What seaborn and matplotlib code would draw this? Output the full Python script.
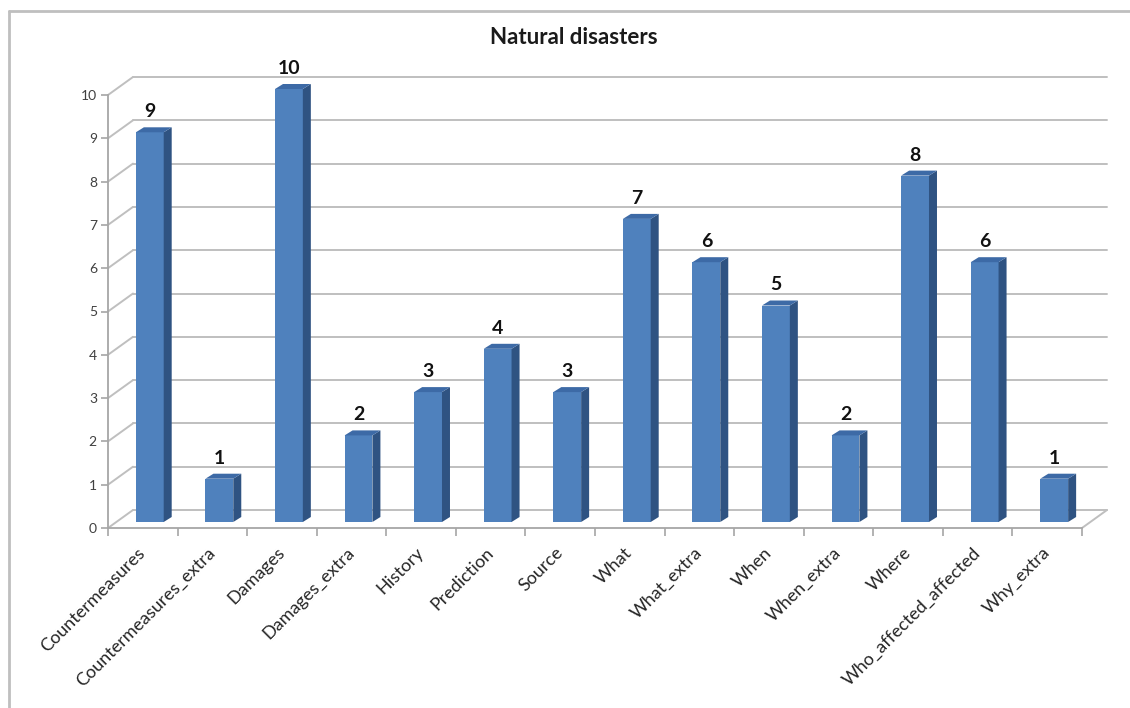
import numpy as np
import pandas as pd
import matplotlib
matplotlib.use("Agg")
import matplotlib.pyplot as plt
import seaborn as sns
from matplotlib.transforms import offset_copy
from matplotlib.patches import Polygon
from matplotlib.lines import Line2D

# ---- data ----
categories = ["Countermeasures", "Countermeasures_extra", "Damages", "Damages_extra",
              "History", "Prediction", "Source", "What", "What_extra", "When",
              "When_extra", "Where", "Who_affected_affected", "Why_extra"]
counts = [9, 1, 10, 2, 3, 4, 3, 7, 6, 5, 2, 8, 6, 1]
y_ticks = list(range(0, 11))
title = "Natural disasters"

# ---- style ----
FRONT = "#4F81BD"
SIDE = "#2F5382"
TOP = "#3D6AA6"
GRID = "#BFBFBF"

sns.set_theme(style="white")
plt.rcParams['font.family'] = ['Lato', 'DejaVu Sans']

W, H = 1130, 708
fig = plt.figure(figsize=(W / 100, H / 100), dpi=100)
fig.patch.set_facecolor("white")
ax = fig.add_axes([108 / W, (H - 528) / H, 974 / W, 433 / H])
ax.set_facecolor("none")

df = pd.DataFrame({"category": categories, "count": counts})
sns.barplot(data=df, x="category", y="count", color=FRONT, width=0.4,
            saturation=1, errorbar=None, ax=ax, zorder=3)
n = len(categories)
ax.set_xlim(-0.5, n - 0.5)
ax.set_ylim(0, 10)

# pixel -> data conversions
p0 = ax.transData.transform((0, 0))
p1 = ax.transData.transform((1, 1))
ppx, ppy = p1[0] - p0[0], p1[1] - p0[1]

bar_tr = offset_copy(ax.transData, fig=fig, x=7, y=6, units="dots")
bdx, bdy = 8 / ppx, 5 / ppy       # bar depth
wdx, wdy = 25 / ppx, 18 / ppy     # wall depth

# back wall gridlines + left wall diagonals
for yv in y_ticks:
    ax.plot([-0.5 + wdx, n - 0.5 + wdx], [yv + wdy, yv + wdy], color=GRID,
            lw=1.4, clip_on=False, zorder=1)
    ax.plot([-0.5, -0.5 + wdx], [yv, yv + wdy], color=GRID, lw=1.4,
            clip_on=False, zorder=1)
# floor right edge
ax.plot([n - 0.5, n - 0.5 + wdx], [0, wdy], color=GRID, lw=1.4, clip_on=False, zorder=1)

# 3D faces for bars
for patch, v in zip(list(ax.patches), counts):
    patch.set_transform(bar_tr)
    patch.set_clip_on(False)
    patch.set_edgecolor("none")
    x0, w, h = patch.get_x(), patch.get_width(), patch.get_height()
    side = Polygon([(x0 + w, 0), (x0 + w + bdx, bdy), (x0 + w + bdx, h + bdy), (x0 + w, h)],
                   closed=True, facecolor=SIDE, edgecolor="none", transform=bar_tr,
                   clip_on=False, zorder=3)
    top = Polygon([(x0, h), (x0 + w, h), (x0 + w + bdx, h + bdy), (x0 + bdx, h + bdy)],
                  closed=True, facecolor=TOP, edgecolor="none", transform=bar_tr,
                  clip_on=False, zorder=3)
    ax.add_patch(side)
    ax.add_patch(top)
    lab_tr = offset_copy(bar_tr, fig=fig, x=0, y=7, units="dots")
    ax.text(x0 + w / 2, h + bdy, str(v), transform=lab_tr, ha="center", va="bottom",
            fontsize=14, fontweight="bold", color="#111111", clip_on=False, zorder=4)

# axes styling
for s in ["top", "right"]:
    ax.spines[s].set_visible(False)
for s in ["left", "bottom"]:
    ax.spines[s].set_color("#A6A6A6")
    ax.spines[s].set_linewidth(1.3)
ax.set_yticks(y_ticks)
ax.set_yticklabels([str(t) for t in y_ticks], fontsize=10, color="#404040")
ax.set_xticks(range(n))
ax.set_xticklabels(categories, rotation=45, ha="right", va="center",
                   rotation_mode="anchor", fontsize=13, color="#262626")
ax.set_xticks(np.arange(-0.5, n, 1), minor=True)
ax.tick_params(axis="y", left=True, length=5, width=1.2, color="#A6A6A6", pad=3)
ax.tick_params(axis="x", which="major", bottom=True, length=0, pad=16)
ax.tick_params(axis="x", which="minor", bottom=True, length=6, width=1.2, color="#A6A6A6")
ax.set_xlabel("")
ax.set_ylabel("")
ax.grid(False)

# title
fig.text(574 / W, 1 - 38 / H, title, ha="center", va="center", fontsize=16,
         fontweight="bold", color="#1A1A1A")

# chart frame (left and top)
fig.add_artist(Line2D([9 / W, 1], [1 - 11 / H, 1 - 11 / H], transform=fig.transFigure,
                      color="#BFBFBF", lw=2))
fig.add_artist(Line2D([9 / W, 9 / W], [0, 1 - 11 / H], transform=fig.transFigure,
                      color="#BFBFBF", lw=2))

fig.savefig("out.png", dpi=100)
